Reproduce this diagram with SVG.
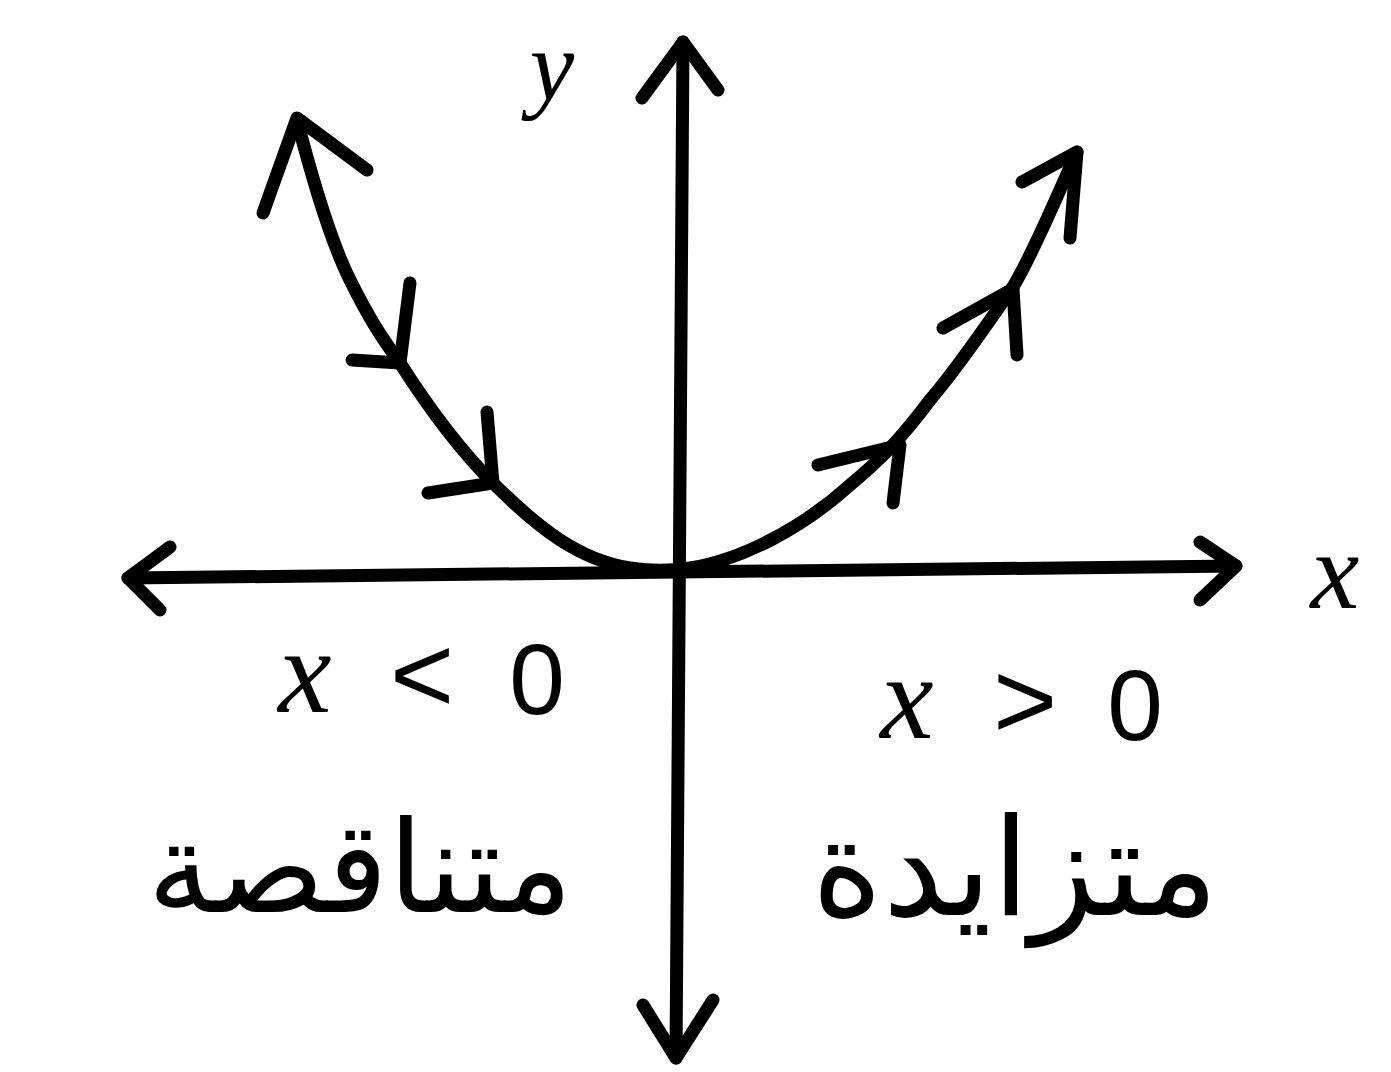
<svg xmlns="http://www.w3.org/2000/svg" width="1391" height="1072" viewBox="0 0 1391 1072">
<style>
.s{fill:none;stroke:#000;stroke-width:13;stroke-linecap:round;stroke-linejoin:round}
.t{fill:#000;font-family:"Liberation Serif",serif;font-style:italic;text-anchor:middle}
.n{fill:#000;font-family:"Liberation Sans",sans-serif;text-anchor:middle}
.a{fill:#000;font-family:"DejaVu Sans",sans-serif;text-anchor:middle}
</style>
<rect width="1391" height="1072" fill="#fff"/>
<g id="connectors">
<g id="x-axis">
<path class="s" d="M128 578 L1236 566"/>
<path class="s" d="M170 547 L128 578 L160 610"/>
<path class="s" d="M1200 542 L1236 566 L1200 600"/>
</g>
<g id="y-axis">
<path class="s" d="M683 42 L676 1058"/>
<path class="s" d="M642 98 L683 42 L718 90"/>
<path class="s" d="M643 1005 L676 1058 L713 1000"/>
</g>
<g id="curve">
<path class="s" d="M297 120 C310 170 330 240 350 280 C370 320 380 335 400 363 C430 410 460 450 493 483 C540 530 580 560 630 568 C650 571 670 571 690 568 C740 560 800 530 850 485 C880 460 900 440 930 400 C960 365 990 320 1013 287 C1035 250 1055 200 1077 152"/>
<path class="s" d="M263 213 L297 118 L367 170"/>
<path class="s" d="M410 283 L400 363 L352 360"/>
<path class="s" d="M487 412 L493 483 L428 493"/>
<path class="s" d="M818 465 L900 445 L893 503"/>
<path class="s" d="M943 328 L1013 289 L1017 355"/>
<path class="s" d="M1022 182 L1077 152 L1070 238"/>
</g>
</g>
<g id="labels">
<text class="t" x="552" y="100" font-size="100">y</text>
<text class="t" x="1335" y="608" font-size="110">x</text>
<text class="t" x="305" y="712" font-size="120">x</text>
<text class="n" x="422" y="712" font-size="110">&lt;</text>
<text class="n" x="537" y="714" font-size="100">0</text>
<text class="t" x="907" y="738" font-size="120">x</text>
<text class="n" x="1025" y="738" font-size="110">&gt;</text>
<text class="n" x="1135" y="740" font-size="100">0</text>
<text class="a" x="360" y="912" font-size="128">متناقصة</text>
<text class="a" x="1015" y="915" font-size="136">متزايدة</text>
</g>
</svg>
